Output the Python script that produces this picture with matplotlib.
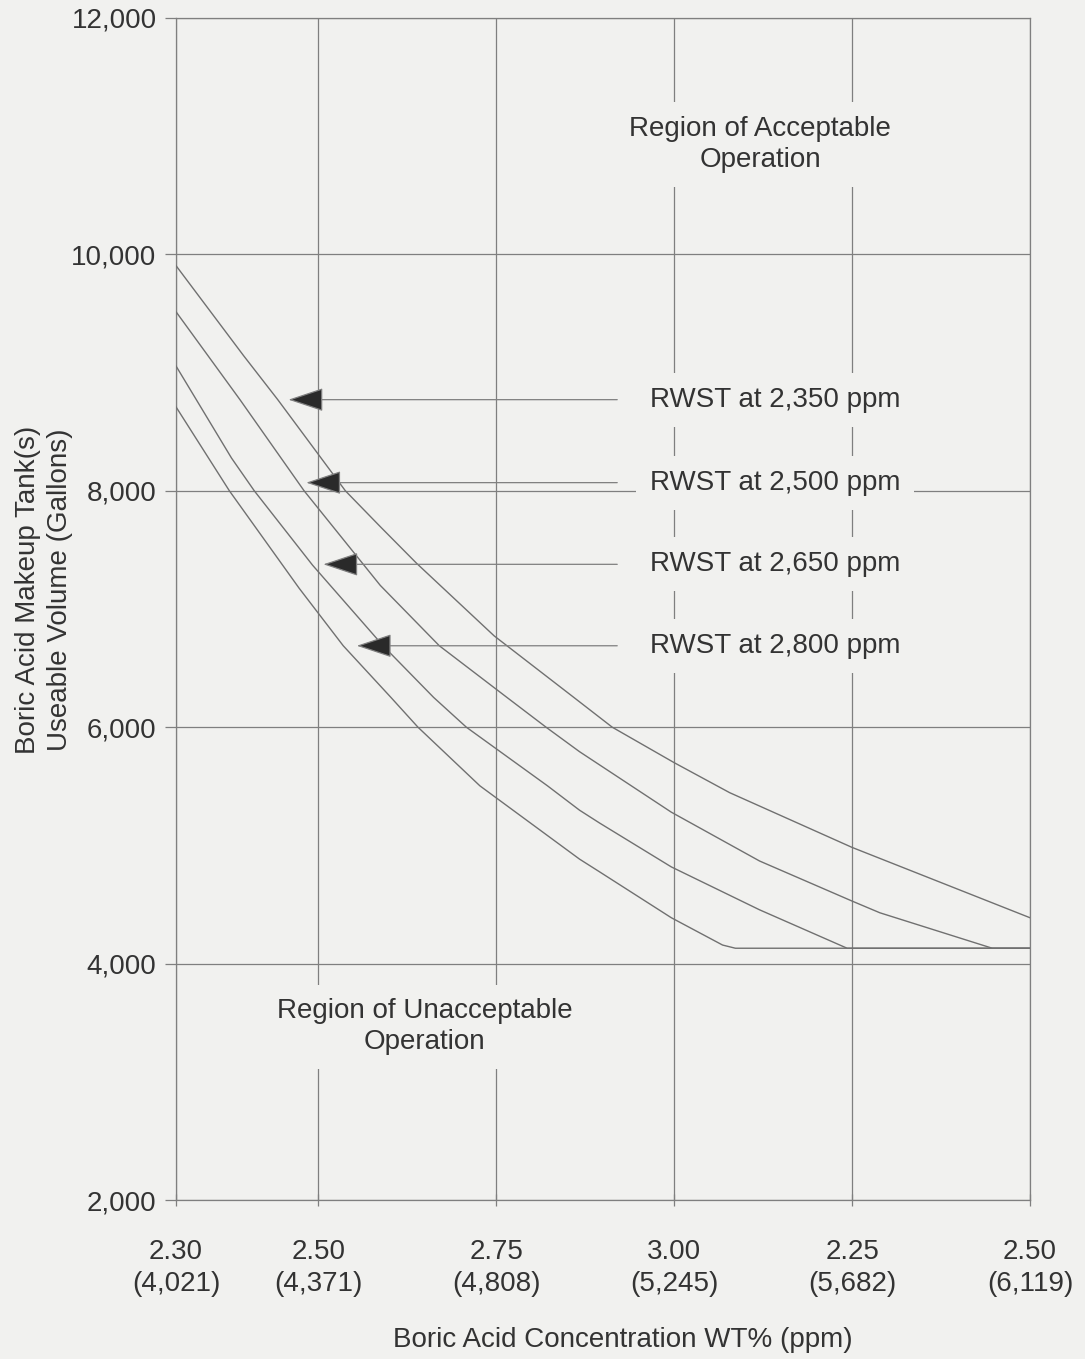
import matplotlib
matplotlib.use("Agg")
import matplotlib.pyplot as plt

plt.rcParams['font.family'] = ['Liberation Sans', 'DejaVu Sans']

# curves: boric acid wt% vs useable volume (gal)
rwst_labels = ["RWST at 2,350 ppm", "RWST at 2,500 ppm",
               "RWST at 2,650 ppm", "RWST at 2,800 ppm"]

c2350_x = [2.30, 2.395, 2.443, 2.538, 2.587, 2.638, 2.747, 2.859, 2.913, 3.00, 3.078, 3.25, 3.50]
c2350_y = [9905, 9143, 8771, 8000, 7697, 7387, 6773, 6252, 6000, 5700, 5446, 4983, 4388]

c2500_x = [2.30, 2.39, 2.48, 2.587, 2.670, 2.765, 2.820, 2.867, 2.996, 3.12, 3.25, 3.289, 3.447, 3.50]
c2500_y = [9515, 8770, 8000, 7200, 6689, 6252, 6000, 5793, 5281, 4868, 4529, 4430, 4130, 4130]

c2650_x = [2.30, 2.378, 2.410, 2.492, 2.591, 2.662, 2.708, 2.822, 2.867, 2.895, 2.996, 3.12, 3.243, 3.50]
c2650_y = [9056, 8277, 8000, 7370, 6689, 6252, 6000, 5504, 5298, 5190, 4818, 4455, 4130, 4130]

c2800_x = [2.30, 2.375, 2.473, 2.535, 2.602, 2.640, 2.727, 2.867, 2.895, 2.996, 3.068, 3.086, 3.50]
c2800_y = [8710, 8000, 7176, 6689, 6252, 6000, 5504, 4884, 4777, 4388, 4157, 4130, 4130]

# arrow tips (pointing at the curves) and where the shafts stop
arrow_tip_x = [2.458, 2.483, 2.507, 2.554]
arrow_y = [8771, 8069, 7378, 6689]
arrow_end_x = 2.92
label_x = 2.966

xticks = [2.30, 2.50, 2.75, 3.00, 3.25, 3.50]
xticklabels = ["2.30\n(4,021)", "2.50\n(4,371)", "2.75\n(4,808)",
               "3.00\n(5,245)", "2.25\n(5,682)", "2.50\n(6,119)"]
yticks = [2000, 4000, 6000, 8000, 10000, 12000]

bg = '#f1f1ef'
line_c = '#7f7f7f'
text_c = '#333333'
fs = 20

fig = plt.figure(figsize=(10.85, 13.59), dpi=100, facecolor=bg)
W, H = 1085, 1359
ax = fig.add_axes([176 / W, 1 - 1200 / H, (1030 - 176) / W, (1200 - 18) / H])
ax.set_facecolor(bg)

ax.set_xlim(2.30, 3.50)
ax.set_ylim(2000, 12000)
ax.set_xticks(xticks)
ax.set_xticklabels(xticklabels, linespacing=1.3)
ax.set_yticks(yticks)
ax.set_yticklabels([f"{v:,}" for v in yticks])
ax.grid(True, color=line_c, lw=0.9)
ax.set_axisbelow(True)
for s in ax.spines.values():
    s.set_color(line_c)
    s.set_linewidth(0.9)
ax.tick_params(axis='y', direction='out', length=8, width=0.9, color=line_c,
               labelsize=fs, labelcolor=text_c, pad=6)
ax.tick_params(axis='x', direction='inout', length=8, width=0.9, color=line_c,
               labelsize=fs, labelcolor=text_c, pad=24)

for xs, ys in [(c2350_x, c2350_y), (c2500_x, c2500_y),
               (c2650_x, c2650_y), (c2800_x, c2800_y)]:
    ax.plot(xs, ys, color='#707070', lw=1.0, zorder=3)

box = dict(boxstyle='square,pad=0.5', fc=bg, ec='none')
for tx, ty, lab in zip(arrow_tip_x, arrow_y, rwst_labels):
    ax.annotate('', xy=(tx, ty), xytext=(arrow_end_x, ty),
                arrowprops=dict(arrowstyle='-|>,head_length=1.5,head_width=0.5',
                                mutation_scale=15, lw=0.9, ec=line_c, fc='#2a2a2a',
                                shrinkA=0, shrinkB=0), zorder=4)
    ax.text(label_x, ty, lab, fontsize=fs, color=text_c, ha='left', va='center',
            bbox=box, zorder=5)

ax.text(3.121, 10930, "Region of Acceptable\nOperation", fontsize=fs, color=text_c,
        ha='center', va='center', linespacing=1.25, bbox=box, zorder=5)
ax.text(2.649, 3464, "Region of Unacceptable\nOperation", fontsize=fs, color=text_c,
        ha='center', va='center', linespacing=1.25, bbox=box, zorder=5)

fig.text(623 / W, 1 - 1340 / H, "Boric Acid Concentration WT% (ppm)",
         fontsize=fs, color=text_c, ha='center', va='center')
fig.text(44 / W, 1 - 590 / H, "Boric Acid Makeup Tank(s)\nUseable Volume (Gallons)",
         fontsize=fs, color=text_c, ha='center', va='center', rotation=90,
         linespacing=1.3)

fig.savefig("out.png", dpi=100, facecolor=bg)
